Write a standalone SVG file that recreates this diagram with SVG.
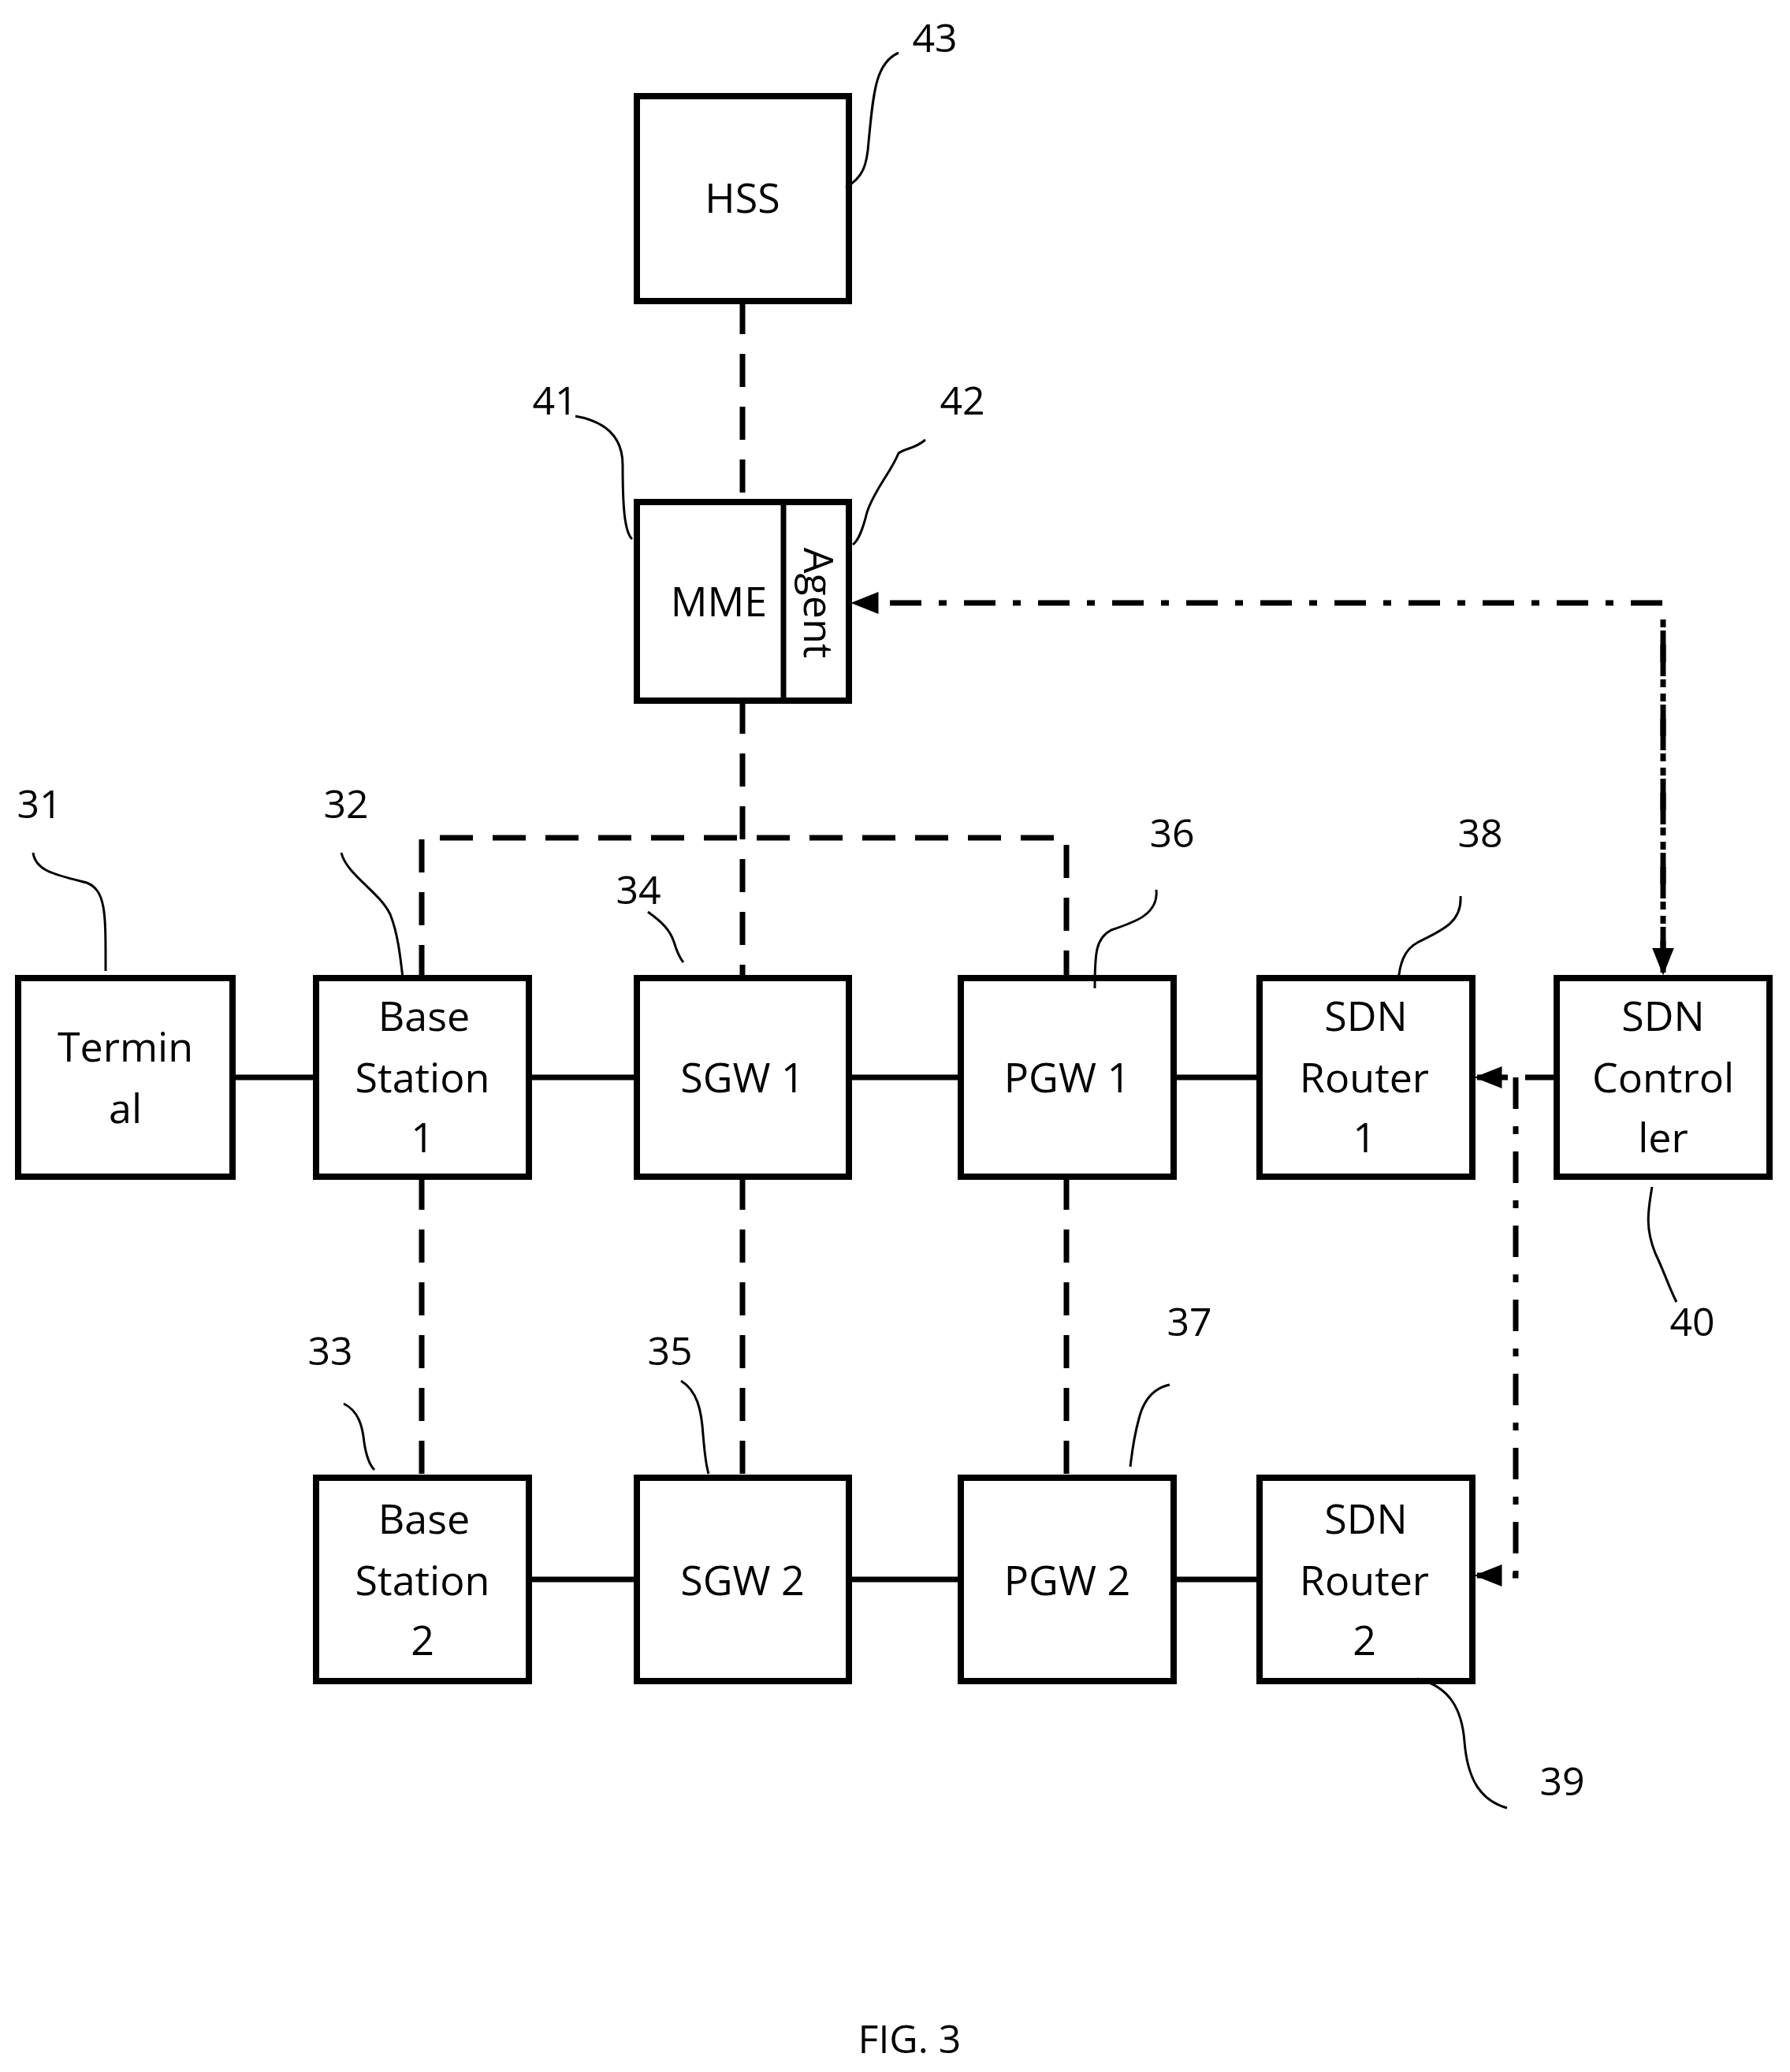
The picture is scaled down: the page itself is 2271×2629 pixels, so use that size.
<svg xmlns="http://www.w3.org/2000/svg" width="2271" height="2629" viewBox="0 0 2271 2629">
<style>
.b{fill:#fff;stroke:#000;stroke-width:8}
.t{font-family:"Open Sans","Noto Sans",sans-serif;font-size:52px;text-anchor:middle;fill:#000}
.n{font-family:"Open Sans","Noto Sans",sans-serif;font-size:50px;text-anchor:middle;fill:#000}
.s{stroke:#000;stroke-width:7;fill:none}
.d{stroke:#000;stroke-width:7;fill:none;stroke-dasharray:42 25}
.dd{stroke:#000;stroke-width:7;fill:none;stroke-dasharray:40 22 10 22}
.l{stroke:#000;stroke-width:3;fill:none}
</style>
<defs><marker id="a" viewBox="0 0 10 10" refX="9" refY="5" markerWidth="5" markerHeight="5" orient="auto" markerUnits="strokeWidth"><path d="M0,1 L10,5 L0,9 z" fill="#000"/></marker></defs>
<g id="connectors">
<line class="s" x1="295" y1="1367" x2="401" y2="1367"/>
<line class="s" x1="671" y1="1367" x2="808" y2="1367"/>
<line class="s" x1="1077" y1="1367" x2="1219" y2="1367"/>
<line class="s" x1="1489" y1="1367" x2="1598" y2="1367"/>
<line class="s" x1="671" y1="2004" x2="808" y2="2004"/>
<line class="s" x1="1077" y1="2004" x2="1219" y2="2004"/>
<line class="s" x1="1489" y1="2004" x2="1598" y2="2004"/>
<line class="d" x1="942" y1="382" x2="942" y2="637"/>
<line class="d" x1="942" y1="889" x2="942" y2="1241"/>
<polyline class="d" points="535,1241 535,1063 1353,1063 1353,1241"/>
<line class="d" x1="535" y1="1493" x2="535" y2="1875"/>
<line class="d" x1="942" y1="1493" x2="942" y2="1875"/>
<line class="d" x1="1353" y1="1493" x2="1353" y2="1875"/>
<polyline class="dd" points="2110,1234 2110,765 1083,765" marker-end="url(#a)"/>
<line class="dd" x1="2110" y1="800" x2="2110" y2="1234" marker-end="url(#a)"/>
<line class="dd" x1="1975" y1="1367" x2="1874" y2="1367" marker-end="url(#a)"/>
<polyline class="dd" points="1923,1367 1923,1999 1874,1999" marker-end="url(#a)"/>
</g>
<g id="hss"><rect class="b" x="808" y="122" width="269" height="260"/><text class="t" x="942" y="270">HSS</text></g>
<g id="mme"><rect class="b" x="808" y="637" width="269" height="252"/><line class="s" x1="994" y1="637" x2="994" y2="889"/><text class="t" x="912" y="782">MME</text><text class="t" transform="translate(1020,765) rotate(90)">Agent</text></g>
<g id="terminal"><rect class="b" x="23" y="1241" width="272" height="252"/><text class="t" x="159" y="1347">Termin</text><text class="t" x="159" y="1425">al</text></g>
<g id="bs1"><rect class="b" x="401" y="1241" width="270" height="252"/><text class="t" x="538" y="1308">Base</text><text class="t" x="536" y="1386">Station</text><text class="t" x="536" y="1462">1</text></g>
<g id="sgw1"><rect class="b" x="808" y="1241" width="269" height="252"/><text class="t" x="942" y="1386">SGW 1</text></g>
<g id="pgw1"><rect class="b" x="1219" y="1241" width="270" height="252"/><text class="t" x="1354" y="1386">PGW 1</text></g>
<g id="sdnr1"><rect class="b" x="1598" y="1241" width="270" height="252"/><text class="t" x="1733" y="1308">SDN</text><text class="t" x="1731" y="1386">Router</text><text class="t" x="1731" y="1462">1</text></g>
<g id="sdnc"><rect class="b" x="1975" y="1241" width="270" height="252"/><text class="t" x="2110" y="1308">SDN</text><text class="t" x="2110" y="1386">Control</text><text class="t" x="2110" y="1462">ler</text></g>
<g id="bs2"><rect class="b" x="401" y="1875" width="270" height="258"/><text class="t" x="538" y="1946">Base</text><text class="t" x="536" y="2024">Station</text><text class="t" x="536" y="2100">2</text></g>
<g id="sgw2"><rect class="b" x="808" y="1875" width="269" height="258"/><text class="t" x="942" y="2024">SGW 2</text></g>
<g id="pgw2"><rect class="b" x="1219" y="1875" width="270" height="258"/><text class="t" x="1354" y="2024">PGW 2</text></g>
<g id="sdnr2"><rect class="b" x="1598" y="1875" width="270" height="258"/><text class="t" x="1733" y="1946">SDN</text><text class="t" x="1731" y="2024">Router</text><text class="t" x="1731" y="2100">2</text></g>
<g id="labels">
<text class="n" x="1186" y="66" font-size="60">43</text>
<path class="l" d="M1073,238 C1095,225 1100,210 1102,180 C1108,120 1110,80 1140,67"/>
<text class="n" x="704" y="526">41</text>
<path class="l" d="M730,528 C770,535 790,555 790,590 C790,640 792,675 802,684"/>
<text class="n" x="1221" y="526">42</text>
<path class="l" d="M1174,558 C1160,570 1150,568 1140,575 C1130,600 1110,620 1100,650 C1095,670 1090,685 1082,691"/>
<text class="n" x="50" y="1038">31</text>
<path class="l" d="M42,1082 C45,1105 70,1110 110,1120 C135,1130 134,1160 134,1232"/>
<text class="n" x="439" y="1038">32</text>
<path class="l" d="M433,1082 C440,1110 480,1130 495,1160 C505,1185 508,1215 511,1241"/>
<text class="n" x="810" y="1147">34</text>
<path class="l" d="M822,1157 C840,1170 850,1180 855,1195 C858,1205 862,1215 867,1221"/>
<text class="n" x="1487" y="1075">36</text>
<path class="l" d="M1467,1129 C1470,1160 1440,1170 1410,1180 C1390,1190 1389,1210 1389,1254"/>
<text class="n" x="1878" y="1075">38</text>
<path class="l" d="M1853,1137 C1855,1170 1830,1180 1800,1195 C1780,1205 1776,1225 1774,1244"/>
<text class="n" x="2147" y="1695">40</text>
<path class="l" d="M2096,1506 C2090,1540 2088,1560 2100,1590 C2112,1615 2118,1635 2127,1652"/>
<text class="n" x="419" y="1732">33</text>
<path class="l" d="M436,1781 C455,1790 460,1810 462,1830 C465,1850 470,1860 475,1865"/>
<text class="n" x="850" y="1732">35</text>
<path class="l" d="M864,1752 C885,1765 890,1790 892,1820 C894,1845 896,1860 899,1870"/>
<text class="n" x="1509" y="1695">37</text>
<path class="l" d="M1484,1757 C1460,1762 1450,1780 1445,1800 C1438,1825 1436,1845 1434,1861"/>
<text class="n" x="1982" y="2278">39</text>
<path class="l" d="M1798,2130 C1840,2140 1855,2170 1858,2210 C1862,2260 1880,2285 1912,2294"/>
<text class="n" x="1154" y="2605" font-size="64">FIG. 3</text>
</g>
</svg>
